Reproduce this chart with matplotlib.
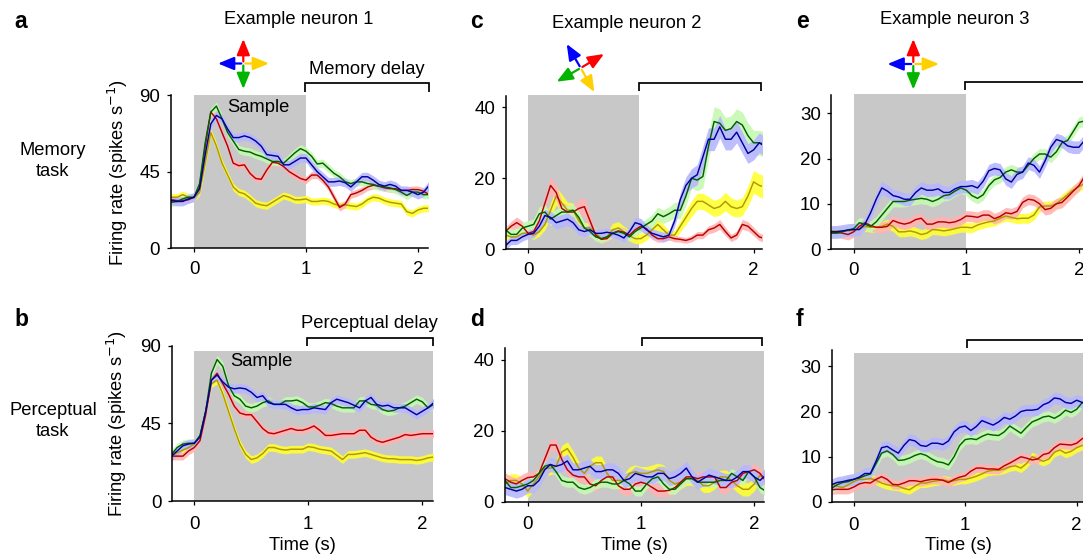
import numpy as np
import matplotlib
matplotlib.use("Agg")
import matplotlib.pyplot as plt

plt.rcParams['font.family'] = ['Liberation Sans', 'DejaVu Sans']

time_s = [-0.2,-0.15,-0.1,-0.05,0,0.05,0.1,0.15,0.2,0.25,0.3,0.35,0.4,0.45,0.5,0.55,0.6,0.65,0.7,0.75,0.8,0.85,0.9,0.95,1.0,
          1.05,1.1,1.15,1.2,1.25,1.3,1.35,1.4,1.45,1.5,1.55,1.6,1.65,1.7,1.75,1.8,1.85,1.9,1.95,2.0,2.05,2.1]

a_yellow = [30,30,31.5,30,29.5,33,50,68,60,50,43,36,33,32,29.5,26.5,25.5,25,27,29,31,30,28.5,28.5,29,27.5,27.5,28,27.5,26,25,25.5,25,24.5,26,28.5,30,29.5,28,27,26.5,26,21.5,20.5,22.5,23.5,23.5]
a_red = [28.5,28,28,28.5,30,36,60,80,76,68,60,50,48.5,49,44,41,40.5,46,50.5,50,48,45,43,41,40,43,43,40,36,30,24,26,31.5,32.5,34,36,37,36.5,35.5,35,35,34,34,34.5,34.5,33.5,31.5]
a_green = [27,27.5,29,30,30,38,62,80,83.5,76,68,63,58,57,56.5,55,54,52.5,51,51,50,53,56,58.5,57,54,49.5,50,47,44,42,39,38,39,39,38,37.5,36.5,36,35.5,34.5,33,31,33,33,31.5,31.5]
a_blue = [28,27.5,27.5,29,30,35,55,73,78,76,70,65,65,66,65,63,60,55,54.5,54,49,49,51,53,53,49,45,42,39,39,39.5,38.5,36,39,42,42,40,37.5,36.5,37.5,36.5,34,34,33,31.5,33,37]

b_yellow = [26,28,29.5,31,33,38,52,68,70,62,52,42,33,27,24,25,27.5,31,31,30,29.5,30,30,30,31.5,31,30,29.5,29,26.5,24,27,27,27.5,28,27,26,25,24.5,24.5,24,24,24,23.5,24,25,25.5]
b_red = [26,26,26,29,31,35,50,70,74,68,62,55,51,50,50,46,42,39.5,39,40,41,42,41,41,42,43.5,41,38,38,38.5,39,39,39,41,41,37,35,34,35,36,37,38.5,38,38.5,39,39,39]
b_green = [27,31,33,33.5,33.5,38,52,74,82,78,67,61,59,55,54,55,57,58,56,56,58,58,58.5,57,54.5,54.5,55.5,57,56.5,55,54,54,54,58,58,56,55.5,53,52,52.5,54,55,57,59,57.5,54,56]
b_blue = [26,29,32,33,33.5,37,52,70,73,69,66,65,65.5,65,63,60,61,57,56,56,56,54,52.5,53,53,54,53.5,53,57,59,58,57,55.5,54,58,60,56,55,55.5,54,54,54,52,50,52,54,57]

c_yellow = [4,3.5,3.5,4.5,4.5,4,5,7,11,15,13,11,11,8,6,6,4.5,3,3.5,5.5,6,5,3.8,3,3,4,5.5,7,5.5,4,4,6.5,9,11.5,13.5,13.5,12.5,11.5,12,13.5,12,11.5,12,15,19,18,17.5]
c_red = [5,6.5,7.5,6.5,4.5,5,8,13,18,16,11.5,10.5,10.5,11.5,12,8,4,2.8,3,4.5,5.2,4.8,4,5.5,6.5,5.8,4,3,3,3.5,3,2.8,2.5,3,4,4,5.5,6,7,5,3.2,4,7,6.5,5,3.5,3]
c_green = [5.5,4.2,4.2,6,6.5,7,10,10.5,8.5,9.5,10.5,10.5,11,9,6,5,3.5,3,3.5,4.5,5,4.5,3.5,5,6,7,8,10,9.2,10,11,11,15,20,19.5,20.5,29,36,35.5,33.5,34,36,35,32,30,30,29.5]
c_blue = [1,2.5,2.5,3.5,4.2,4.5,6.5,9.5,9,7.5,8,8.5,7.5,5.5,5,5.5,4.5,4.5,4.8,4.5,4,3.2,5,7.5,7,5.5,4.5,4,3.5,4,8,14,18,20,21,26,31,31,34.5,31,31,33,30,27,28,30,29]

d_yellow = [5,6,6,5,3,5,7,9.5,9.5,10,14,15,12.5,9.5,8,10,11,11,8,6,6,6,8,8.5,8,8,8.5,9,8.5,6,5,5.5,6.5,6.5,6,4.5,4.5,5.5,7,7,6,4.5,3.5,3.5,5,7.5,6]
d_red = [6.5,5.5,5,6,6.8,7,8,12,16,16,12,9,7.5,7,7,5,4.5,6,7,7,4.5,3.5,3.5,5,5.5,5,4,3,3,3.2,4,5.5,7,7,6.5,7,7,7,4,4,5.5,6,8,8.5,9,8,6]
d_green = [6,4,4,4.5,5,6,8,10,10.5,8.5,6,5.5,5.5,4,3.5,4,5,5.5,5.5,5,5,6,5,3,3,5,6.5,7,5,3.5,3.5,5,6.5,6.5,5.5,5.5,5.5,5.5,6,6,8,7,6,8.5,7,4,3]
d_blue = [4,3.5,3,3.5,4.5,4.5,6,9,10.5,10,10.5,11.5,9,9,9.5,10,8.5,8.5,9,9,8,6,6.5,8,7.5,7,7,8,8,6.5,7,8,9.5,7,5.5,6.5,7.5,7,6.5,6,6,7,8.5,8.5,7,6,7.5]

e_yellow = [4,4,4,4,4.2,4.5,5,4.8,4.8,5,5.5,5,3.8,3.8,4,3.7,3.2,3.5,4.3,4.2,4,4.2,4.5,4.8,4.8,4.7,5.3,5.7,6,6.2,6.8,7.3,7,6.7,6.8,6.8,7.5,9.3,9.5,9.5,10,11,12,13,13.8,14.5,15]
e_red = [3.8,3.7,3.5,3.2,3.8,5,5.8,5.2,4.8,4.8,5,6.3,5.8,5.5,5.8,6.5,6.8,5.5,5.5,6,6,5.8,6,6.5,7.3,7.2,7,7.5,7.5,6.7,7.2,8,7.8,8.3,10.3,11,10.8,10,8.7,9,10,10.3,11.5,12.8,14,16,16]
e_green = [3.5,3.5,3.8,4.2,4.5,5.8,5.5,5,6,7.5,9,10.5,10.5,10.5,10.8,11,11.2,11,10.5,11,11.8,12,12.8,13.5,13,11.8,11.2,12,14,15.3,15.8,17,17.5,17,17,18.5,20,21,21,20.3,21.5,23.5,24,26,28,28.3,28]
e_blue = [3.8,3.8,4,4.2,4.3,4.3,5.5,8,11,13.5,12.8,11.8,11.5,11,11,12.5,13.5,13,13,13.3,12.5,12.5,13.3,13.8,13.8,14,13.5,15,17.3,17.8,17.5,15.5,14.8,16.5,17,19,18.5,17,19.5,22.5,24.2,23.8,22.8,22.5,22.5,24,24]

f_yellow = [4,3.5,3.2,3.8,4.5,5,5,5.2,4.8,4.2,3.8,3.6,3.5,3,2.7,3.5,4.2,4.2,4.5,4.7,4.9,4.6,4.7,5,5,5.3,5.7,6.2,6.8,7,7,7.3,7.8,8,7.5,8.5,10,9.5,9,9.5,11,11.5,10.8,11.2,12,12.5,12.8]
f_red = [2.7,2.8,2.8,2.8,3.3,4,4.3,4.2,5,5.6,5,3.9,3.8,4.2,4.7,4.7,4.5,4.8,5,5,4.8,4.3,5,5.5,5.8,6.8,7.5,7.5,7.3,7.3,7.2,8,8.6,9.3,10,9.7,9.3,9.5,10.5,10.8,12,12.8,12.7,12.6,13,14,14.5]
f_green = [3,3.8,4.3,4.5,5,5.3,5.8,6.2,8.5,10.8,11.3,10.5,9.2,9.3,9.7,10.3,10.7,10.3,9.5,8.9,8.7,8.2,10,12.5,13.8,14,13.8,14.5,15,14.8,14.7,15.5,16.8,16,15.2,16.5,17.7,18.2,18.8,19,18.5,19.2,20.3,19.8,20.5,22,21.5]
f_blue = [3.8,4.3,4.5,4.8,5,5.5,6.3,6.3,9,12,12.3,11.5,10.8,12.5,13.8,13.5,12.5,12.3,13,13,12.7,13.5,15.5,16.5,16.8,15.8,16.7,18,17.5,17,17.7,18.7,18.3,19,20,20.3,20.3,20.5,21.5,22,23,22.8,22,21.8,22.5,22,21.5]

c_sem_yellow = [1.2,1.2,1.2,1.2,1.2,1.2,1.3,1.5,2,2.5,2.5,2.3,2,1.8,1.5,1.5,1.5,1.3,1.3,1.8,1.8,1.5,1.5,1.4,1.4,1.4,1.6,1.7,1.5,1.3,1.3,1.6,2,2.2,2.3,2.3,2.3,2.3,2.4,2.6,2.5,2.4,2.5,2.8,3.2,3.2,3.2]
c_sem_red = [1.2,1.4,1.6,1.4,1.2,1.2,1.5,2,2.5,2.2,1.8,1.8,2,2.5,2.8,2,1.2,1,1,1.2,1.2,1.2,1.2,1.3,1.4,1.3,1.2,1,1,0.9,0.9,0.8,0.8,0.9,1,1,1.1,1.2,1.4,1.2,1,1.1,1.4,1.3,1.2,1.1,1]
c_sem_green = [1.5,1.5,1.5,1.6,1.6,1.6,2,2,1.8,1.8,1.8,1.8,1.8,1.7,1.5,1.3,1.2,1.1,1.1,1.2,1.2,1.2,1.2,1.3,1.4,1.6,1.8,1.9,1.9,2,2.2,2.4,2.6,2.8,3,3.2,3.6,4.2,4,3.6,3.6,3.6,3.6,3.6,3.5,3.5,3.6]
c_sem_blue = [1.2,1.2,1.2,1.2,1.2,1.3,1.5,1.7,1.8,1.8,1.8,1.8,1.6,1.5,1.4,1.3,1.2,1.2,1.2,1.2,1.2,1.2,1.3,1.6,1.7,1.5,1.3,1.3,1.3,1.3,1.6,2,2.4,2.7,2.8,3,3.2,3.2,3.2,3,3,3,3,2.8,2.8,2.8,2.8]

PANELS = [
    dict(letter='a', series=(a_yellow, a_red, a_green, a_blue), sem=(2.1, 2.1, 2.4, 2.6),
         x=(194, 306), y0=248.3, yref=(95, 90), left=170.7, right=428, top=95, spine_top=95, gray_top=95, gray_end=1.0,
         yticks=[0, 45, 90], xlabel=False, bracket=(305, 429, 83, 91.5)),
    dict(letter='b', series=(b_yellow, b_red, b_green, b_blue), sem=(2.2, 2.2, 2.5, 2.6),
         x=(194.3, 308.3), y0=501, yref=(345.7, 90), left=172, right=433, top=345.7, spine_top=345.7, gray_top=351, gray_end=None,
         yticks=[0, 45, 90], xlabel=True, bracket=(307, 432.7, 338, 346)),
    dict(letter='c', series=(c_yellow, c_red, c_green, c_blue), sem=(c_sem_yellow, c_sem_red, c_sem_green, c_sem_blue),
         x=(528, 640.8), y0=249.3, yref=(107.3, 40), left=505.7, right=761.7, top=95, spine_top=96, gray_top=95, gray_end=0.985,
         yticks=[0, 20, 40], xlabel=False, bracket=(638.7, 761, 83, 91)),
    dict(letter='d', series=(d_yellow, d_red, d_green, d_blue), sem=(1.9, 1.7, 1.4, 2.0),
         x=(527.7, 641), y0=501.7, yref=(360, 40), left=504.7, right=764.3, top=348.3, spine_top=348.3, gray_top=351, gray_end=None,
         yticks=[0, 20, 40], xlabel=True, bracket=(641.7, 761.7, 338.3, 346)),
    dict(letter='e', series=(e_yellow, e_red, e_green, e_blue), sem=(1.1, 1.2, 1.2, 1.4),
         x=(853.7, 966.3), y0=249, yref=(113.3, 30), left=831.3, right=1083, top=94, spine_top=95, gray_top=94, gray_end=1.0,
         yticks=[0, 10, 20, 30], xlabel=False, bracket=(965.3, 1090, 81.7, 90)),
    dict(letter='f', series=(f_yellow, f_red, f_green, f_blue), sem=(1.0, 1.0, 1.1, 1.3),
         x=(853.7, 965.2), y0=502, yref=(366.3, 30), left=832, right=1083, top=350, spine_top=350, gray_top=352.7, gray_end=None,
         yticks=[0, 10, 20, 30], xlabel=True, bracket=(966.7, 1090, 340, 348)),
]

LINE_COLORS = ['#b09800', '#b80000', '#006000', '#00009c']
BAND_COLORS = ['#ffff33', '#ffb3b3', '#c6f9b2', '#b7b7ff']
GRAY = '#c8c8c8'
FS = 13.2
W, H = 1083, 555

fig = plt.figure(figsize=(W / 100, H / 100), dpi=100)
t = np.array(time_s)

for p in PANELS:
    ax = fig.add_axes([p['left'] / W, 1 - p['y0'] / H, (p['right'] - p['left']) / W, (p['y0'] - p['top']) / H])
    ppu = p['x'][1] - p['x'][0]
    ax.set_xlim((p['left'] - p['x'][0]) / ppu, (p['right'] - p['x'][0]) / ppu)
    pxv = (p['y0'] - p['yref'][0]) / p['yref'][1]
    ax.set_ylim(0, (p['y0'] - p['top']) / pxv)
    gray_hi = (p['y0'] - p['gray_top']) / pxv
    gray_end = p['gray_end'] if p['gray_end'] is not None else ax.get_xlim()[1]
    ax.fill_between([0, gray_end], 0, gray_hi, color=GRAY, lw=0, zorder=1)
    for i, vals in enumerate(p['series']):
        v = np.array(vals, float)
        s = np.array(p['sem'][i], float)
        ax.fill_between(t, v - s, v + s, color=BAND_COLORS[i], alpha=0.9, lw=0, zorder=2 + i)
    for i, vals in enumerate(p['series']):
        ax.plot(t, vals, color=LINE_COLORS[i], lw=1.05, zorder=7 + i, solid_joinstyle='round')
    for s in ('top', 'right'):
        ax.spines[s].set_visible(False)
    for s in ('left', 'bottom'):
        ax.spines[s].set_linewidth(1.1)
        ax.spines[s].set_zorder(20)
    ax.spines['left'].set_bounds(0, (p['y0'] - p['spine_top']) / pxv)
    ax.set_xticks([0, 1, 2])
    ax.set_yticks(p['yticks'])
    ax.tick_params(length=2.6, width=0.9, labelsize=FS + 0.3, color='black')
    ax.tick_params(axis='x', pad=8 if p['xlabel'] else 6.5)
    ax.tick_params(axis='y', pad=5)
    ax.patch.set_alpha(0)

ov = fig.add_axes([0, 0, 1, 1], zorder=50)
ov.set_xlim(0, W)
ov.set_ylim(H, 0)
ov.axis('off')

for p in PANELS:
    x1, x2, yt, yb = p['bracket']
    ov.plot([x1, x1, x2, x2], [yb, yt, yt, yb], color='black', lw=1.25, solid_joinstyle='miter', solid_capstyle='butt')
    if p['xlabel']:
        cx = {'b': 302, 'd': 634, 'f': 958}[p['letter']]
        ov.text(cx, 546, 'Time (s)', ha='center', va='center', fontsize=FS)

letters = {'a': (14, 22), 'b': (14, 320), 'c': (470, 22), 'd': (470, 320), 'e': (796, 21), 'f': (796, 320)}
for k, (x, y) in letters.items():
    ov.text(x, y, k, fontsize=16.5, fontweight='bold', ha='left', va='center')

for s, x, y in [('Example neuron 1', 299, 19), ('Example neuron 2', 627, 23), ('Example neuron 3', 955, 19),
                ('Memory delay', 367, 70), ('Perceptual delay', 369, 324), ('Sample', 258, 108), ('Sample', 261, 361),
                ('Memory\ntask', 53, 161), ('Perceptual\ntask', 53, 421)]:
    ov.text(x, y, s, ha='center', va='center', fontsize=FS, linespacing=1.35)

ov.text(118, 172, 'Firing rate (spikes s$^{-1}$)', rotation=90, ha='center', va='center', fontsize=FS, math_fontfamily='custom')
ov.text(117, 423, 'Firing rate (spikes s$^{-1}$)', rotation=90, ha='center', va='center', fontsize=FS, math_fontfamily='custom')

ARROW = {'red': '#ff0000', 'blue': '#0000ff', 'green': '#00b400', 'yellow': '#ffd000'}
arrow_sets = [
    ((243.3, 63.5), {'red': (243.3, 39), 'blue': (218, 63.5), 'green': (243.3, 89), 'yellow': (269, 63.5)}),
    ((580.7, 68), {'red': (604, 54), 'blue': (566.7, 44), 'green': (556.7, 81.7), 'yellow': (594.3, 92)}),
    ((913.3, 64), {'red': (913.3, 39), 'blue': (887.5, 64), 'green': (913.3, 89.5), 'yellow': (939, 64)}),
]
for (cx, cy), tips in arrow_sets:
    for name, (tx, ty) in tips.items():
        d = np.hypot(tx - cx, ty - cy)
        sx = cx + (tx - cx) * 2 / d
        sy = cy + (ty - cy) * 2 / d
        ov.annotate('', xy=(tx, ty), xytext=(sx, sy),
                    arrowprops=dict(arrowstyle='-|>,head_length=0.8,head_width=0.33', color=ARROW[name], lw=1.6,
                                    shrinkA=0, shrinkB=0, mutation_scale=12))

fig.savefig('out.png', dpi=100)
